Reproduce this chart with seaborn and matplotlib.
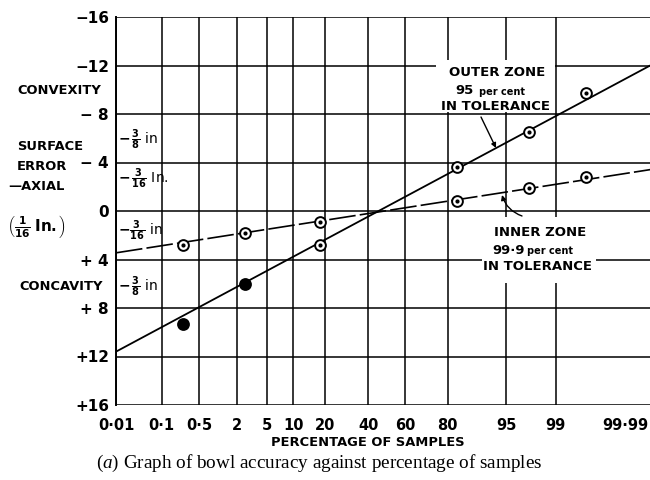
import math
import numpy as np
import matplotlib
matplotlib.use("Agg")
import matplotlib.pyplot as plt
import matplotlib.transforms as mtransforms
from matplotlib.patches import Rectangle
import seaborn as sns

# Probability positions (per cent) of the six samples
sample_pct = [0.26, 2.6, 18, 83.5, 97.5, 99.7]
# Axial surface error in 1/16 in. (negative = convexity, positive = concavity)
outer_zone = [9.3, 6.0, 2.8, -3.6, -6.5, -9.7]
inner_zone = [2.8, 1.8, 0.9, -0.8, -1.9, -2.8]
# Fitted straight lines, given by their values at the two ends of the scale
fit_pct = [0.01, 99.99]
outer_fit = [11.6, -12.3]
inner_fit = [3.45, -3.5]

x_ticks = [0.01, 0.1, 0.5, 2, 5, 10, 20, 40, 60, 80, 95, 99, 99.99]
x_tick_labels = ["0·01", "0·1", "0·5", "2", "5", "10", "20", "40", "60",
                 "80", "95", "99", "99·99"]
y_ticks = [-16, -12, -8, -4, 0, 4, 8, 12, 16]
y_tick_labels = ["−16", "−12", "− 8", "− 4", "0", "+ 4", "+ 8", "+12", "+16"]

# which outer-zone samples are drawn as solid dots
outer_solid = [True, True, False, False, False, False]


# ---- normal-probability scale -------------------------------------------
_A = [-3.969683028665376e+01, 2.209460984245205e+02, -2.759285104469687e+02,
      1.383577518672690e+02, -3.066479806614716e+01, 2.506628277459239e+00]
_B = [-5.447609879822406e+01, 1.615858368580409e+02, -1.556989798598866e+02,
      6.680131188771972e+01, -1.328068155288572e+01]
_C = [-7.784894002430293e-03, -3.223964580411365e-01, -2.400758277161838e+00,
      -2.549732539343734e+00, 4.374664141464968e+00, 2.938163982698783e+00]
_D = [7.784695709041462e-03, 3.224671290700398e-01, 2.445134137142996e+00,
      3.754408661907416e+00]


def _ppf(p):
    """Inverse normal CDF (Acklam's rational approximation)."""
    p = np.asarray(p, dtype=float)
    q = p - 0.5
    r = q * q
    central = ((((((_A[0] * r + _A[1]) * r + _A[2]) * r + _A[3]) * r + _A[4]) * r + _A[5]) * q /
               (((((_B[0] * r + _B[1]) * r + _B[2]) * r + _B[3]) * r + _B[4]) * r + 1))
    ql = np.sqrt(-2 * np.log(np.minimum(p, 1 - p)))
    tail = (((((_C[0] * ql + _C[1]) * ql + _C[2]) * ql + _C[3]) * ql + _C[4]) * ql + _C[5]) / \
           ((((_D[0] * ql + _D[1]) * ql + _D[2]) * ql + _D[3]) * ql + 1)
    tail = np.where(p < 0.5, tail, -tail)
    return np.where(np.abs(q) <= 0.5 - 0.02425, central, tail)


_erf = np.vectorize(math.erf, otypes=[float])


def pct_to_z(pct):
    p = np.clip(np.asarray(pct, dtype=float) / 100.0, 1e-12, 1 - 1e-12)
    return _ppf(p)


def z_to_pct(z):
    z = np.asarray(z, dtype=float)
    return 100.0 * 0.5 * (1.0 + _erf(z / math.sqrt(2.0)))


# ---- styling ---------------------------------------------------------------
sns.set_theme(style="white")
plt.rcParams["font.family"] = ["DejaVu Sans"]
plt.rcParams["mathtext.fontset"] = "custom"
plt.rcParams["mathtext.rm"] = "DejaVu Sans:bold"
plt.rcParams["mathtext.bf"] = "DejaVu Sans:bold"
plt.rcParams["mathtext.it"] = "Liberation Serif:italic"

W, H = 650, 480
fig = plt.figure(figsize=(W / 100, H / 100), dpi=100)
fig.patch.set_facecolor("white")
left_px, right_px, top_px, bottom_px = 116, 657, 17, 405
ax = fig.add_axes([left_px / W, 1 - bottom_px / H,
                   (right_px - left_px) / W, (bottom_px - top_px) / H])
ax.set_facecolor("white")


def axpos(px, py):
    """Axes-fraction position for a point given in figure pixels."""
    return ((px - left_px) / (right_px - left_px),
            (bottom_px - py) / (bottom_px - top_px))


ax.set_xscale("function", functions=(pct_to_z, z_to_pct))
ax.set_xlim(0.01, 99.99)
ax.set_ylim(16, -16)

ax.set_xticks(x_ticks, x_tick_labels)
ax.set_yticks(y_ticks, y_tick_labels)
ax.minorticks_off()
ax.tick_params(axis="both", length=0, colors="black")
ax.tick_params(axis="x", pad=9, labelsize=10.5)
ax.tick_params(axis="y", pad=5, labelsize=11)
for lbl in ax.get_xticklabels() + ax.get_yticklabels():
    lbl.set_fontweight("bold")
# the last percentage label sits at the right-hand edge, so pull it inside
last = ax.get_xticklabels()[-1]
last.set_horizontalalignment("right")
last.set_transform(last.get_transform() +
                   mtransforms.ScaledTranslation(-0.09, 0, fig.dpi_scale_trans))

ax.grid(True, color="black", linewidth=1.1)
ax.set_axisbelow(True)
for side in ("top", "bottom", "right"):
    ax.spines[side].set_visible(False)
ax.spines["left"].set_color("black")
ax.spines["left"].set_linewidth(1.4)

# fitted lines
sns.lineplot(x=fit_pct, y=outer_fit, color="black", linewidth=1.3, ax=ax, zorder=3)
sns.lineplot(x=fit_pct, y=inner_fit, color="black", linewidth=1.2, ax=ax, zorder=3)
ax.lines[-1].set_dashes([16, 2.5])

# sample points
pct = np.array(sample_pct)
outer = np.array(outer_zone)
inner = np.array(inner_zone)
solid = np.array(outer_solid)

sns.scatterplot(x=pct, y=inner, marker="o", s=60, facecolor="white",
                edgecolor="black", linewidth=1.4, ax=ax, zorder=5)
sns.scatterplot(x=pct[~solid], y=outer[~solid], marker="o", s=60,
                facecolor="white", edgecolor="black", linewidth=1.4, ax=ax, zorder=5)
sns.scatterplot(x=np.concatenate([pct, pct[~solid]]),
                y=np.concatenate([inner, outer[~solid]]),
                marker="o", s=9, color="black", linewidth=0, ax=ax, zorder=6)
sns.scatterplot(x=pct[solid], y=outer[solid], marker="o", s=85, color="black",
                linewidth=0, ax=ax, zorder=5)

# zone annotations on white panels
for (x0, y0, x1, y1) in [(436, 60, 555, 112), (482, 217, 596, 283)]:
    (ax0, ay1) = axpos(x0, y0)
    (ax1, ay0) = axpos(x1, y1)
    ax.add_patch(Rectangle((ax0, ay0), ax1 - ax0, ay1 - ay0, transform=ax.transAxes,
                           facecolor="white", edgecolor="none", zorder=4))

big = dict(fontsize=9.5, fontweight="bold", color="black", zorder=7,
           transform=ax.transAxes, va="center")
small = dict(fontsize=7, fontweight="bold", color="black", zorder=7,
             transform=ax.transAxes, va="center")

ax.text(*axpos(497, 73), "OUTER ZONE", ha="center", **big)
ax.text(*axpos(474, 91), "95", ha="right", **big)
ax.text(*axpos(479, 92), "per cent", ha="left", **small)
ax.text(*axpos(496, 106), "IN TOLERANCE", ha="center", **big)

ax.text(*axpos(540, 232), "INNER ZONE", ha="center", **big)
ax.text(*axpos(525, 250), "99·9", ha="right", **big)
ax.text(*axpos(527, 251), "per cent", ha="left", **small)
ax.text(*axpos(538, 267), "IN TOLERANCE", ha="center", **big)

ax.annotate("", xy=axpos(496, 148), xytext=axpos(481, 117),
            xycoords="axes fraction", textcoords="axes fraction",
            arrowprops=dict(arrowstyle="-|>", color="black", lw=1.0,
                            mutation_scale=7, shrinkA=0, shrinkB=0), zorder=7)
ax.annotate("", xy=axpos(502, 195), xytext=axpos(522, 216),
            xycoords="axes fraction", textcoords="axes fraction",
            arrowprops=dict(arrowstyle="-|>", color="black", lw=1.0,
                            mutation_scale=7, shrinkA=0, shrinkB=0,
                            connectionstyle="arc3,rad=-0.25"), zorder=7)

# band labels in the first column
band = dict(fontsize=10, color="black", transform=ax.transAxes, va="center",
            ha="left", zorder=7)
ax.text(*axpos(118, 140), r"$-\,\frac{3}{8}$ in", **band)
ax.text(*axpos(118, 179), r"$-\,\frac{3}{16}$ In.", **band)
ax.text(*axpos(118, 231), r"$-\frac{3}{16}$ in", **band)
ax.text(*axpos(118, 287), r"$-\,\frac{3}{8}$ in", **band)

# axis titles
lab = dict(fontsize=9.4, fontweight="bold", color="black", va="center")
fig.text(17 / W, 1 - 90 / H, "CONVEXITY", ha="left", **lab)
fig.text(17 / W, 1 - 147 / H, "SURFACE", ha="left", **lab)
fig.text(17 / W, 1 - 167 / H, "ERROR", ha="left", **lab)
fig.text(8 / W, 1 - 187 / H, "—AXIAL", ha="left", **lab)
fig.text(7 / W, 1 - 226 / H, r"$\left(\frac{1}{16}\ \mathrm{In.}\right)$",
         ha="left", va="center", fontsize=11, color="black")
fig.text(19 / W, 1 - 287 / H, "CONCAVITY", ha="left", **lab)
fig.text(368 / W, 1 - 442 / H, "PERCENTAGE OF SAMPLES", ha="center", **lab)

fig.text(319 / W, 1 - 463 / H,
         r"($\mathit{a}$) Graph of bowl accuracy against percentage of samples",
         ha="center", va="center", fontsize=13.8, family="Liberation Serif",
         color="black")

fig.savefig("out.png", dpi=100, facecolor="white")
